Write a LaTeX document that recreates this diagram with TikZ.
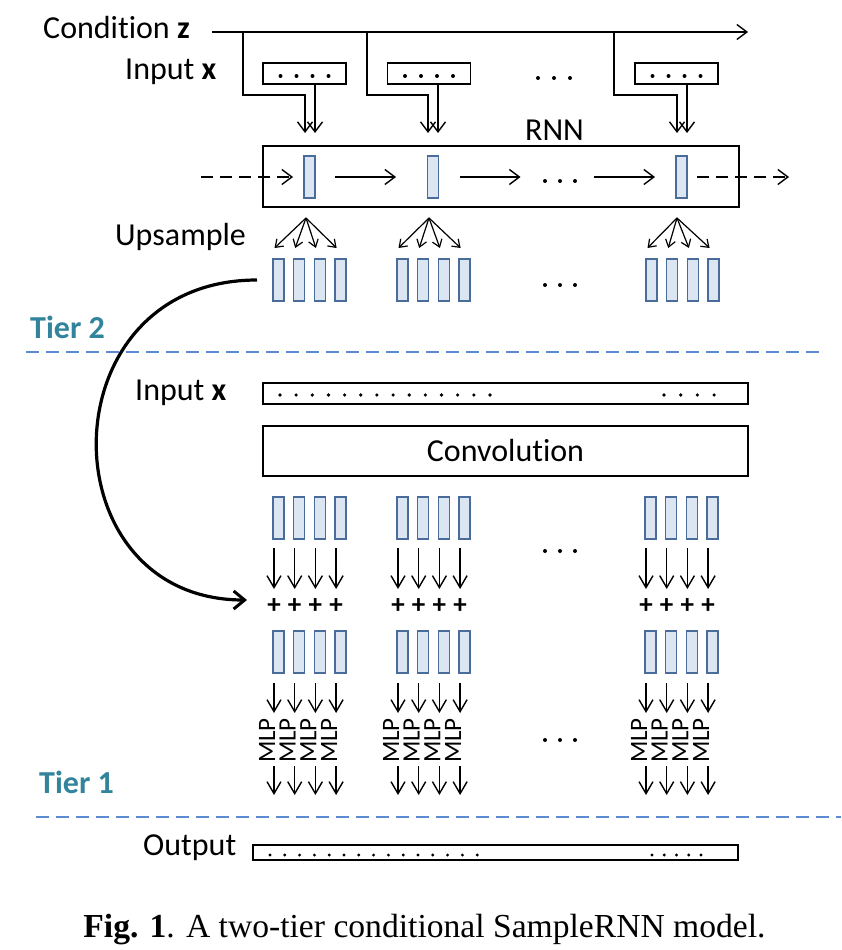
\documentclass[tikz,border=0pt]{standalone}
\usepackage{fontspec}
\setmainfont{Carlito}[Ligatures=NoCommon]
\newfontfamily\capfont{Liberation Serif}
\usetikzlibrary{arrows.meta}
\definecolor{cellfill}{HTML}{DCE6F2}
\definecolor{celldraw}{HTML}{4A6C9B}
\definecolor{tiercol}{HTML}{31849B}
\definecolor{sepcol}{HTML}{5B8BD0}
\begin{document}
\begin{tikzpicture}[x=1pt,y=-1pt,
 lbl/.style={font=\fontsize{32}{38}\selectfont, inner sep=0pt},
 cell/.style={draw=celldraw, fill=cellfill, line width=1.3pt, minimum width=11pt, minimum height=42pt, inner sep=0pt, outer sep=0pt},
 bar/.style={draw=black, line width=1.5pt, inner sep=0pt, outer sep=0pt},
 arr/.style={line width=1.4pt, -{Straight Barb[length=10pt,width=15pt,line width=1.4pt]}},
 varr/.style={line width=1.4pt, -{Straight Barb[length=12pt,width=14pt,line width=1.4pt]}},
 farr/.style={line width=1.2pt, -{Straight Barb[length=7pt,width=10pt,line width=1.2pt]}},
 dashedarr/.style={arr, dash pattern=on 12pt off 7pt},
 sep/.style={draw=sepcol, line width=1.5pt, dash pattern=on 13pt off 7pt},
 tier/.style={font=\fontsize{32}{38}\selectfont\bfseries, text=tiercol, inner sep=0pt},
 plus/.style={font=\fontsize{27}{27}\selectfont\bfseries, inner sep=0pt},
 mlp/.style={font=\fontsize{25}{25}\selectfont, inner sep=0pt, rotate=90}
]
\useasboundingbox (0,0) rectangle (841,950);

% ---------- top: condition and inputs ----------
\node[lbl, anchor=base west] (cond) at (43,39) {Condition \textbf{z}};
\node[lbl, anchor=base west] (inx) at (125,80) {Input \textbf{x}};
\coordinate (zs) at (212,32);
\coordinate (ze) at (748,32);
\draw[arr] (zs) -- (ze);

\foreach \i/\bx/\ax/\bxx/\bc in {1/243/305/315/304.5, 2/367/428/438/429, 3/614/677/687/676.5} {
  \node[bar, minimum width=83pt, minimum height=21pt] (in\i) at (\bc,73.5) {};
  \foreach \k in {-24,-8,8,24} \fill (\bc+\k,76) circle (2pt);
  \coordinate (br\i) at (\bx,32);
  \coordinate (bt\i) at (\ax,133);
  \coordinate (xt\i) at (\bxx,133);
  \draw[arr] (br\i) |- (\ax,95) -- (bt\i);
  \draw[arr] (in\i.south -| xt\i) -- (xt\i);
}
\foreach \k in {0,1,2} \fill (538+16*\k,78) circle (2pt);

% ---------- RNN ----------
\node[bar, minimum width=476pt, minimum height=61pt] (rnn) at (501,176.5) {};
\node[lbl, anchor=base] (rnnl) at (554.5,140) {RNN};
\node[cell] (r1) at (309.5,177) {};
\node[cell] (r2) at (433,177) {};
\node[cell] (r3) at (681.5,177) {};
\coordinate (hin) at (201,177);
\draw[dashedarr] (hin) -- ([xshift=-11pt]r1.west);
\draw[arr] ([xshift=20pt]r1.east) -- ([xshift=81pt]r1.east);
\draw[arr] ([xshift=21pt]r2.east) -- ([xshift=82pt]r2.east);
\draw[arr] ([xshift=-82pt]r3.west) -- ([xshift=-21pt]r3.west);
\coordinate (hout) at (789,177);
\draw[dashedarr] ([xshift=10pt]r3.east) -- (hout);
\foreach \k in {0,1,2} \fill (545+15*\k,181) circle (2pt);

% ---------- upsample ----------
\node[lbl, anchor=base west] (ups) at (115,245) {Upsample};
\foreach \i/\ax/\L in {1/306/273, 2/429/397, 3/677/646} {
  \coordinate (ap\i) at (\ax,218);
  \foreach \k in {0,...,3} {
    \node[cell, anchor=north west] (u\i\k) at (\L+20.7*\k,259) {};
    \draw[farr] (ap\i) -- ([shift={(-4,-11)}]u\i\k.north);
  }
}
\foreach \k in {0,1,2} \fill (545+15*\k,285) circle (2pt);

% curve from tier 2 to tier 1
\coordinate (cs) at (257,280);
\coordinate (ce) at (247,600);
\draw[line width=3.2pt, -{Straight Barb[length=11pt,width=18pt,line width=3pt]}] (cs) .. controls (45,280) and (45,600) .. (ce);

% ---------- tier 2 separator ----------
\node[tier, anchor=base west] (t2) at (30,338) {Tier 2};
\coordinate (s1a) at (26,352);
\coordinate (s1b) at (822,352);
\draw[sep] (s1a) -- (s1b);

% ---------- tier 1 ----------
\node[lbl, anchor=base west] (inx2) at (135,400) {Input \textbf{x}};
\node[bar, minimum width=485pt, minimum height=21pt] (inbar) at (505.5,393.5) {};
\foreach \k in {0,...,13} \fill (280+16.15*\k,395) circle (1.8pt);
\foreach \k in {0,...,3} \fill (664+16.7*\k,395) circle (1.8pt);
\node[bar, minimum width=485pt, minimum height=50pt, font=\fontsize{32}{38}\selectfont] (conv) at (505.5,451) {Convolution};

\foreach \i/\L in {1/273, 2/397, 3/645} {
  \foreach \k in {0,...,3} {
    \pgfmathsetmacro{\xx}{\L+1+20.7*\k}
    \node[cell, anchor=north west] (a\i\k) at (\L+20.7*\k,497) {};
    \node[plus] (p\i\k) at (\xx,606) {+};
    \draw[varr] (\xx,548) -- (\xx,589);
    \node[cell, anchor=north west] (b\i\k) at (\L+20.7*\k,631) {};
    \node[mlp] (m\i\k) at (\xx-7,740.5) {MLP};
    \draw[varr] (\xx,683) -- (\xx,713);
    \draw[varr] (\xx,766) -- (\xx,795);
  }
}
\foreach \k in {0,1,2} \fill (545+15*\k,551) circle (2pt);
\foreach \k in {0,1,2} \fill (545+15*\k,740) circle (2pt);

% ---------- tier 1 separator ----------
\node[tier, anchor=base west] (t1) at (39,793) {Tier 1};
\coordinate (s2a) at (36,817);
\coordinate (s2b) at (841,817);
\draw[sep] (s2a) -- (s2b);

% ---------- output ----------
\node[lbl, anchor=base west] (outl) at (143,855) {Output};
\node[bar, minimum width=485pt, minimum height=15pt] (outbar) at (495.5,852.5) {};
\foreach \k in {0,...,14} \fill (270+14.8*\k,855) circle (1.6pt);
\foreach \k in {0,...,4} \fill (652+12.25*\k,855) circle (1.6pt);

% ---------- caption ----------
\node[font=\fontsize{33.6}{40}\selectfont\capfont, anchor=base, inner sep=0pt] (cap) at (424.5,937) {\textbf{Fig. 1}. A two-tier conditional SampleRNN model.};
\end{tikzpicture}
\end{document}
